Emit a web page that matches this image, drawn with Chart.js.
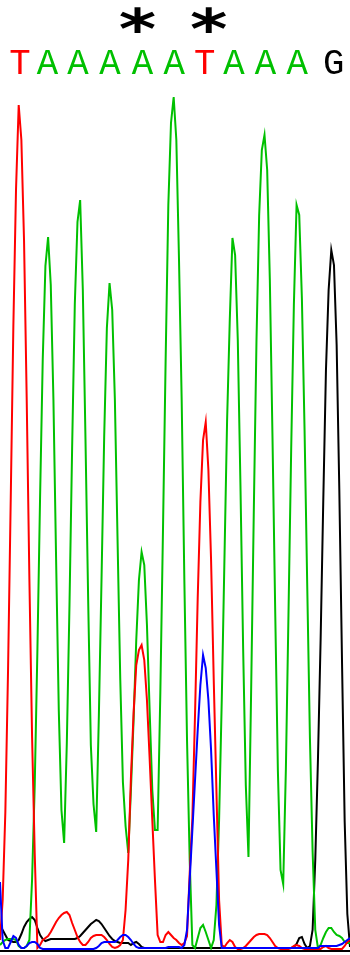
<!DOCTYPE html>
<html>
<head>
<meta charset="utf-8">
<script src="https://cdn.jsdelivr.net/npm/chart.js@4"></script>
<style>
  html, body { margin: 0; padding: 0; background: #fff; }
  canvas { display: block; }
</style>
</head>
<body>
<canvas id="trace" width="350" height="955"></canvas>
<script>
// Sequencing trace: T red, A green, C blue, G black (signal per scan)

var bases   = ['T', 'A', 'A', 'A', 'A', 'A', 'T', 'A', 'A', 'A', 'G'];
var basePos = [7.5, 17.8, 29.2, 41.2, 53.3, 65.2, 76.6, 87.6, 99.4, 111.2, 124.9];
var starPos = [51.5, 78.1];

var sigT = [10, 50, 138, 278, 448, 624, 761, 845, 810, 709, 550, 371, 214, 96, 2, 5, 10, 12, 14, 18,
            23, 28, 32, 35, 37, 38, 35, 27, 20, 13, 8, 5, 5, 8, 12, 14, 15, 15, 15, 13,
            10, 6, 3, 2, 3, 5, 10, 40, 90, 172, 237, 285, 300, 305, 290, 250, 192, 130, 70, 15,
            8, 8, 15, 18, 15, 12, 10, 7, 5, 7, 14, 77, 132, 236, 352, 448, 510, 528, 480, 390,
            270, 160, 50, 5, 3, 7, 10, 8, 3, 1, 1, 2, 4, 7, 10, 13, 15, 16, 16, 16,
            15, 12, 8, 4, 2, 1, 1, 1, 1, 2, 4, 5, 4, 2, 1, 1, 1, 1, 1, 1,
            1, 3, 4, 2, 1, 1, 1, 1, 1, 4, 8, 10];

var sigA = [5, 8, 10, 11, 11, 11, 10, 4, 2, 2, 4, 10, 70, 165, 300, 453, 591, 684, 713, 665,
            550, 390, 240, 140, 107, 206, 344, 503, 646, 728, 750, 660, 510, 350, 205, 146, 118, 234, 371, 514,
            622, 667, 640, 550, 410, 272, 168, 124, 97, 160, 230, 310, 370, 398, 385, 325, 240, 160, 120, 120,
            256, 420, 591, 745, 827, 853, 810, 690, 550, 370, 210, 90, 5, 2, 12, 22, 25, 18, 10, 2,
            10, 45, 130, 250, 390, 530, 630, 712, 695, 610, 464, 302, 165, 93, 260, 440, 610, 735, 800, 815,
            780, 670, 511, 340, 180, 80, 66, 181, 340, 503, 646, 745, 735, 651, 519, 363, 212, 99, 20, 2,
            5, 12, 18, 22, 22, 18, 15, 14, 12, 8, 7, 7];

var sigC = [68, 10, 2, 2, 8, 14, 12, 5, 2, 2, 4, 7, 8, 8, 6, 2, 1, 1, 1, 1,
            1, 1, 1, 1, 1, 1, 1, 1, 1, 1, 1, 1, 1, 1, 1, 1, 2, 4, 7, 8,
            8, 8, 8, 8, 10, 13, 15, 15, 13, 10, 6, 3, 2, 2, 2, 2, 2, 2, 2, 2,
            2, 2, 2, 3, 3, 3, 3, 3, 2, 5, 20, 70, 120, 170, 220, 265, 295, 282, 250, 200,
            135, 80, 25, 2, 2, 2, 2, 2, 2, 2, 2, 2, 2, 2, 2, 2, 2, 2, 2, 2,
            2, 2, 2, 2, 2, 2, 2, 2, 2, 2, 2, 2, 2, 2, 2, 2, 2, 2, 2, 2,
            4, 4, 4, 4, 4, 4, 4, 5, 6, 8, 10, 12];

var sigG = [25, 20, 15, 10, 9, 8, 8, 10, 16, 23, 28, 31, 33, 30, 22, 15, 11, 9, 10, 11,
            11, 11, 11, 11, 11, 11, 11, 11, 11, 12, 14, 17, 20, 23, 26, 28, 30, 29, 26, 22,
            18, 14, 11, 9, 8, 7, 7, 7, 7, 5, 7, 8, 6, 3, 2, 2, 2, 2, 2, 2,
            2, 2, 2, 2, 2, 2, 2, 2, 2, 2, 2, 2, 2, 2, 2, 2, 2, 2, 2, 2,
            2, 2, 2, 2, 2, 2, 2, 2, 2, 2, 2, 2, 2, 2, 2, 2, 2, 2, 2, 2,
            2, 2, 2, 2, 2, 2, 2, 2, 2, 2, 3, 6, 12, 13, 6, 2, 4, 20, 90, 190,
            310, 450, 580, 660, 700, 685, 605, 460, 290, 129, 36, 3];

var scans = sigT.map(function(v, i) { return i; });

var baseColor = { T: '#ff0000', A: '#00c000', C: '#0000ff', G: '#000000' };


// fit a glyph into a box: returns font size and horizontal stretch
function fitGlyph(ctx, ch, family, weight, boxW, boxH) {
    ctx.font = weight + ' 100px ' + family;
    var m = ctx.measureText(ch);
    var size = 100 * boxH / (m.actualBoundingBoxAscent + m.actualBoundingBoxDescent);
    ctx.font = weight + ' ' + size + 'px ' + family;
    m = ctx.measureText(ch);
    var w = m.actualBoundingBoxLeft + m.actualBoundingBoxRight;
    return {size: size, sx: boxW / w, ascent: m.actualBoundingBoxAscent};
}


// base calls and the two asterisks above the trace
var callsPlugin = {
    id: 'calls',
    afterDraw: function(chart) {
        var ctx = chart.ctx;
        var xs = chart.scales.x;
        var monoFam = '"Liberation Mono", monospace';
        var starFam = '"DejaVu Sans", sans-serif';
        ctx.save();
        ctx.textAlign = 'center';
        ctx.textBaseline = 'alphabetic';

        var f = fitGlyph(ctx, 'A', monoFam, 'normal', 22, 25);
        ctx.font = 'normal ' + f.size + 'px ' + monoFam;
        for (var k = 0; k < bases.length; k++) {
            ctx.save();
            ctx.translate(xs.getPixelForValue(basePos[k]), 74);
            ctx.scale(f.sx, 1);
            ctx.fillStyle = baseColor[bases[k]];
            ctx.fillText(bases[k], 0, 0);
            ctx.restore();
        }

        var g = fitGlyph(ctx, '*', starFam, 'bold', 35, 26);
        ctx.font = 'bold ' + g.size + 'px ' + starFam;
        ctx.fillStyle = '#000';
        for (var s = 0; s < starPos.length; s++) {
            ctx.save();
            ctx.translate(xs.getPixelForValue(starPos[s]), 7 + g.ascent);
            ctx.scale(g.sx, 1);
            ctx.fillText('*', 0, 0);
            ctx.restore();
        }

        // baseline rule under the traces
        var a = chart.chartArea;
        ctx.strokeStyle = '#000';
        ctx.lineWidth = 2;
        ctx.beginPath();
        ctx.moveTo(a.left, a.bottom + 1);
        ctx.lineTo(a.right, a.bottom + 1);
        ctx.stroke();

        ctx.restore();
    }
};


var ctx_t = document.getElementById('trace').getContext('2d');

var trace_chart = new Chart(ctx_t, {
    type: 'line',

    data: {
        labels: scans,
        datasets: [
            {label: 'C', data: sigC, borderColor: baseColor.C},
            {label: 'T', data: sigT, borderColor: baseColor.T},
            {label: 'A', data: sigA, borderColor: baseColor.A},
            {label: 'G', data: sigG, borderColor: baseColor.G},
        ],
    },

    options: {
        responsive: false,
        animation: false,
        devicePixelRatio: 1,
        layout: {
            padding: {top: 90, bottom: 5, left: 0, right: 0}},

        elements: {
            point: {radius: 0},
            line: {borderWidth: 2, tension: 0, fill: false}},

        scales: {
            x: {
                display: false,
                offset: false},
            y: {
                display: false,
                min: 0,
                max: 860},
        },

        plugins: {
            legend: {display: false},
            tooltip: {enabled: false},
        },
    },

    plugins: [callsPlugin],
});
</script>
</body>
</html>
